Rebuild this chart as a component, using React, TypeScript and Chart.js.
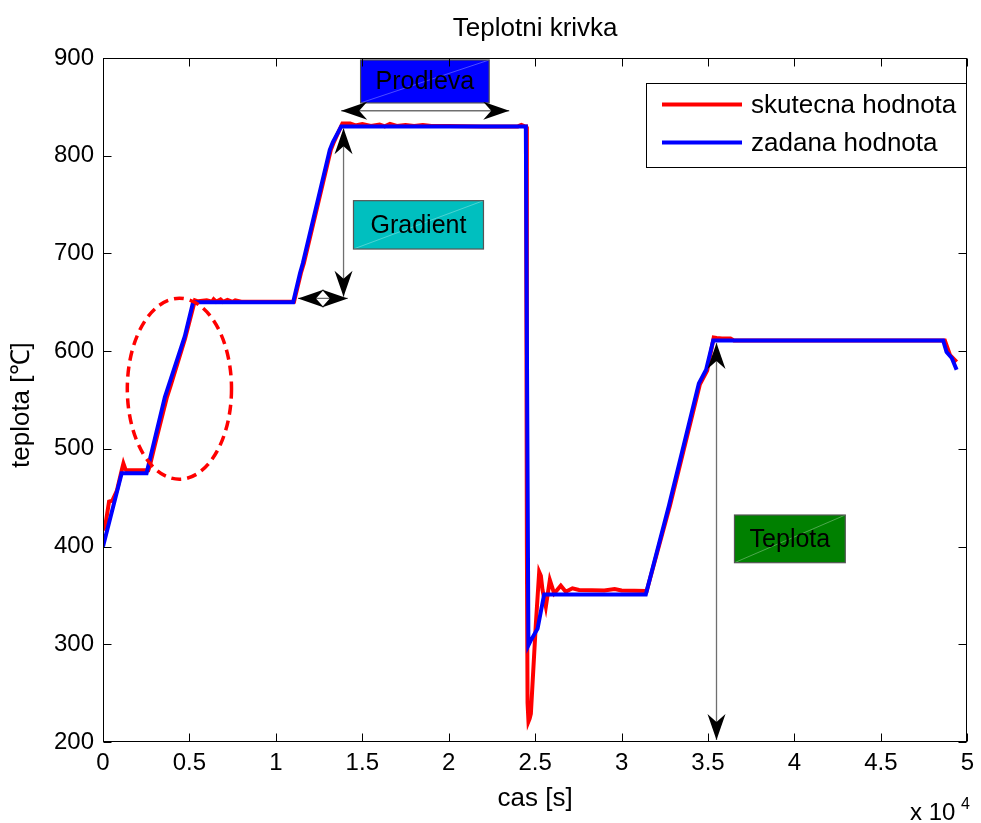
import React, { useEffect, useRef } from "react";
import { Chart, registerables } from "chart.js";

Chart.register(...registerables);

// ---- data (time in seconds, temperature in °C) ----
const setpointTime = [0, 1080, 2520, 3580, 4730, 5210, 11000, 11400, 11560, 13120, 13300, 13780, 24460, 24610, 24750, 25140, 25520, 31400, 32740, 34470, 34890, 35300, 48600, 48800, 49100, 49380];
const setpointTemp = [400, 475, 475, 553, 615, 650, 650, 680, 690, 806, 814, 830, 830, 299, 304, 316, 351, 351, 442, 567, 581, 611, 611, 599, 593, 581];

const measuredTime = [0, 120, 350, 540, 800, 1080, 1180, 1300, 1370, 2620, 2700, 3000, 3700, 3900, 4750, 5320, 5500, 6000, 6300, 6400, 6550, 6800, 6950, 7200, 7500, 7650, 8000, 11050, 11450, 11620, 13180, 13380, 13850, 14300, 14600, 15000, 15500, 16000, 16300, 16600, 17000, 17500, 18000, 18500, 19000, 20000, 22000, 24000, 24200, 24400, 24470, 24520, 24560, 24613, 24680, 24752, 25040, 25233, 25330, 25425, 25618, 25849, 26098, 26483, 26772, 27156, 27540, 29000, 29600, 30000, 31450, 32800, 34530, 34950, 35330, 35500, 35800, 36300, 36500, 48600, 48700, 49000, 49380];
const measuredTemp = [417, 420, 446, 447, 457, 478, 485, 479, 478, 478, 482, 504, 553, 564, 613, 652, 651, 652, 650.5, 653, 650.5, 653, 650.5, 652.5, 650.5, 652, 650.5, 650.5, 680, 690, 806, 815, 833, 833, 831, 832.5, 830.5, 832, 830, 832.5, 830.5, 831.5, 830.5, 831.5, 830.5, 830.5, 830, 830, 831.5, 830, 830, 400, 240, 221, 224, 229, 321, 374, 370, 355.6, 338.5, 365.8, 352, 360, 353.8, 357.3, 355.6, 355, 356.5, 355, 354.5, 442, 566, 580, 614, 613.5, 613, 613, 611, 611, 611, 596, 589];

const xTickValues = [0, 5000, 10000, 15000, 20000, 25000, 30000, 35000, 40000, 45000, 50000];
const yTickValues = [200, 300, 400, 500, 600, 700, 800, 900];

const seriesNames = ["skutecna hodnota", "zadana hodnota"];
const titleText = "Teplotni krivka";
const xLabel = "cas [s]";
const yLabel = "teplota [\u2103]";

// ---- annotations (data coordinates) ----
const boxLabels = ["Prodleva", "Gradient", "Teplota"];
const boxX0 = [14900, 14490, 36530];
const boxX1 = [22340, 22010, 42940];
const boxY0 = [854, 704.5, 383.5];
const boxY1 = [898, 754, 432.3];
const boxFill = ["#0000ff", "#00bfbf", "#008000"];

const arrowX0 = [13780, 13915, 11280, 35490];
const arrowY0 = [846, 828, 654, 608.3];
const arrowX1 = [23500, 13915, 14160, 35490];
const arrowY1 = [846, 655.7, 654, 202];

const ellipseCenter = [4420, 561.5];
const ellipseRadius = [3014, 92.6];

const FONT = "'Liberation Sans', Arial, Helvetica, sans-serif";

function arrowHead(ctx: CanvasRenderingContext2D, tx: number, ty: number, ang: number) {
  const L = 26, W = 9, N = 18;
  const c = Math.cos(ang), s = Math.sin(ang);
  const bx = tx - L * c, by = ty - L * s;
  ctx.beginPath();
  ctx.moveTo(tx, ty);
  ctx.lineTo(bx - W * s, by + W * c);
  ctx.lineTo(tx - N * c, ty - N * s);
  ctx.lineTo(bx + W * s, by - W * c);
  ctx.closePath();
  ctx.fillStyle = "#000";
  ctx.fill();
}

const overlayPlugin = {
  id: "overlay",
  afterDatasetsDraw(chart: any) {
    const { ctx, chartArea: ca } = chart;
    const xs = chart.scales.x;
    const ys = chart.scales.y;
    ctx.save();

    // dashed ellipse
    const cx = xs.getPixelForValue(ellipseCenter[0]);
    const cy = ys.getPixelForValue(ellipseCenter[1]);
    const rx = Math.abs(xs.getPixelForValue(ellipseCenter[0] + ellipseRadius[0]) - cx);
    const ry = Math.abs(ys.getPixelForValue(ellipseCenter[1] + ellipseRadius[1]) - cy);
    ctx.beginPath();
    ctx.setLineDash([10, 6]);
    ctx.lineWidth = 3.5;
    ctx.strokeStyle = "#ff0000";
    ctx.ellipse(cx, cy, rx, ry, 0, 0, Math.PI * 2);
    ctx.stroke();
    ctx.setLineDash([]);

    // boxes
    for (let i = 0; i < boxLabels.length; i++) {
      const x0 = xs.getPixelForValue(boxX0[i]);
      const x1 = xs.getPixelForValue(boxX1[i]);
      const y0 = ys.getPixelForValue(boxY1[i]);
      const y1 = ys.getPixelForValue(boxY0[i]);
      ctx.fillStyle = boxFill[i];
      ctx.fillRect(x0, y0, x1 - x0, y1 - y0);
      ctx.beginPath();
      ctx.strokeStyle = "rgba(255,255,255,0.3)";
      ctx.lineWidth = 1;
      ctx.moveTo(x0, y1);
      ctx.lineTo(x1, y0);
      ctx.stroke();
      ctx.strokeStyle = "#555";
      ctx.lineWidth = 1.2;
      ctx.strokeRect(x0, y0, x1 - x0, y1 - y0);
      ctx.fillStyle = "#000";
      ctx.font = `25px ${FONT}`;
      ctx.textAlign = "center";
      ctx.textBaseline = "middle";
      ctx.fillText(boxLabels[i], (x0 + x1) / 2, (y0 + y1) / 2 + 1);
    }

    // double arrows
    for (let i = 0; i < arrowX0.length; i++) {
      const ax = xs.getPixelForValue(arrowX0[i]);
      const ay = ys.getPixelForValue(arrowY0[i]);
      const bx = xs.getPixelForValue(arrowX1[i]);
      const by = ys.getPixelForValue(arrowY1[i]);
      ctx.beginPath();
      ctx.strokeStyle = "#6f6f6f";
      ctx.lineWidth = 1.3;
      ctx.moveTo(ax, ay);
      ctx.lineTo(bx, by);
      ctx.stroke();
      const ang = Math.atan2(by - ay, bx - ax);
      arrowHead(ctx, bx, by, ang);
      arrowHead(ctx, ax, ay, ang + Math.PI);
    }

    // axes box and inward ticks
    ctx.strokeStyle = "#000";
    ctx.lineWidth = 1;
    const L = Math.round(ca.left) + 0.5, R = Math.round(ca.right) - 0.5;
    const T = Math.round(ca.top) + 0.5, B = Math.round(ca.bottom) - 0.5;
    ctx.strokeRect(L, T, R - L, B - T);
    ctx.beginPath();
    for (const v of yTickValues) {
      const p = Math.round(ys.getPixelForValue(v)) + 0.5;
      ctx.moveTo(L, p); ctx.lineTo(L + 8, p);
      ctx.moveTo(R, p); ctx.lineTo(R - 8, p);
    }
    for (const v of xTickValues) {
      const p = Math.round(xs.getPixelForValue(v)) + 0.5;
      ctx.moveTo(p, B); ctx.lineTo(p, B - 8);
      ctx.moveTo(p, T); ctx.lineTo(p, T + 8);
    }
    ctx.stroke();

    // legend
    const lx0 = ca.left + 543, ly0 = ca.top + 25, lx1 = ca.right - 1, ly1 = ca.top + 109;
    ctx.fillStyle = "#fff";
    ctx.fillRect(lx0, ly0, lx1 - lx0, ly1 - ly0);
    ctx.strokeStyle = "#000";
    ctx.lineWidth = 1;
    ctx.strokeRect(Math.round(lx0) + 0.5, Math.round(ly0) + 0.5, Math.round(lx1 - lx0), Math.round(ly1 - ly0));
    const legendColors = ["#ff0000", "#0000ff"];
    for (let i = 0; i < 2; i++) {
      const yy = ly0 + 21.5 + i * 38;
      ctx.beginPath();
      ctx.strokeStyle = legendColors[i];
      ctx.lineWidth = 4;
      ctx.moveTo(lx0 + 16, yy);
      ctx.lineTo(lx0 + 96, yy);
      ctx.stroke();
      ctx.fillStyle = "#000";
      ctx.font = `26px ${FONT}`;
      ctx.textAlign = "left";
      ctx.textBaseline = "middle";
      ctx.fillText(seriesNames[i], lx0 + 105, yy + 1);
    }

    // title and axis labels
    const mid = (ca.left + ca.right) / 2;
    ctx.fillStyle = "#000";
    ctx.font = `26px ${FONT}`;
    ctx.textAlign = "center";
    ctx.textBaseline = "alphabetic";
    ctx.fillText(titleText, mid, 36);
    ctx.textBaseline = "middle";
    ctx.fillText(xLabel, mid, 799);
    ctx.save();
    ctx.translate(22, 468);
    ctx.rotate(-Math.PI / 2);
    ctx.textAlign = "left";
    ctx.fillText(yLabel, 0, 0);
    ctx.restore();
    // exponent
    ctx.textAlign = "left";
    ctx.textBaseline = "alphabetic";
    ctx.font = `24px ${FONT}`;
    ctx.fillText("x 10", 910, 820);
    ctx.font = `16px ${FONT}`;
    ctx.fillText("4", 961, 809);

    ctx.restore();
  },
};

export default function App() {
  const canvasRef = useRef<HTMLCanvasElement | null>(null);

  useEffect(() => {
    if (!canvasRef.current) return;
    const measured = measuredTime.map((t, i) => ({ x: t, y: measuredTemp[i] }));
    const setpoint = setpointTime.map((t, i) => ({ x: t, y: setpointTemp[i] }));
    const chart = new Chart(canvasRef.current, {
      type: "line",
      data: {
        datasets: [
          {
            label: seriesNames[0],
            data: measured,
            borderColor: "#ff0000",
            borderWidth: 4,
            pointRadius: 0,
            tension: 0,
            fill: false,
            order: 2,
          },
          {
            label: seriesNames[1],
            data: setpoint,
            borderColor: "#0000ff",
            borderWidth: 4,
            pointRadius: 0,
            tension: 0,
            fill: false,
            order: 1,
          },
        ],
      },
      options: {
        animation: false,
        responsive: true,
        maintainAspectRatio: false,
        layout: { padding: { top: 58, right: 12, left: 0, bottom: 0 } },
        plugins: {
          legend: { display: false },
          title: { display: false },
          tooltip: { enabled: false },
        },
        scales: {
          x: {
            type: "linear",
            min: 0,
            max: 50000,
            afterFit: (s: any) => { s.height = 81; },
            afterBuildTicks: (s: any) => { s.ticks = xTickValues.map((v) => ({ value: v })); },
            grid: { display: false, drawTicks: false },
            border: { display: false },
            ticks: {
              autoSkip: false,
              maxRotation: 0,
              padding: 7,
              color: "#000",
              font: { family: FONT, size: 24 },
              callback: (v: any) => String(Number(v) / 10000),
            },
          },
          y: {
            type: "linear",
            min: 200,
            max: 900,
            afterFit: (s: any) => { s.width = 103; },
            afterBuildTicks: (s: any) => { s.ticks = yTickValues.map((v) => ({ value: v })); },
            grid: { display: false, drawTicks: false },
            border: { display: false },
            ticks: {
              autoSkip: false,
              padding: 9,
              color: "#000",
              font: { family: FONT, size: 24 },
              callback: (v: any) => String(v),
            },
          },
        },
      },
      plugins: [overlayPlugin],
    });
    return () => chart.destroy();
  }, []);

  return (
    <div style={{ position: "fixed", left: 0, top: 0, width: 981, height: 823, background: "#fff" }}>
      <canvas ref={canvasRef} />
    </div>
  );
}
